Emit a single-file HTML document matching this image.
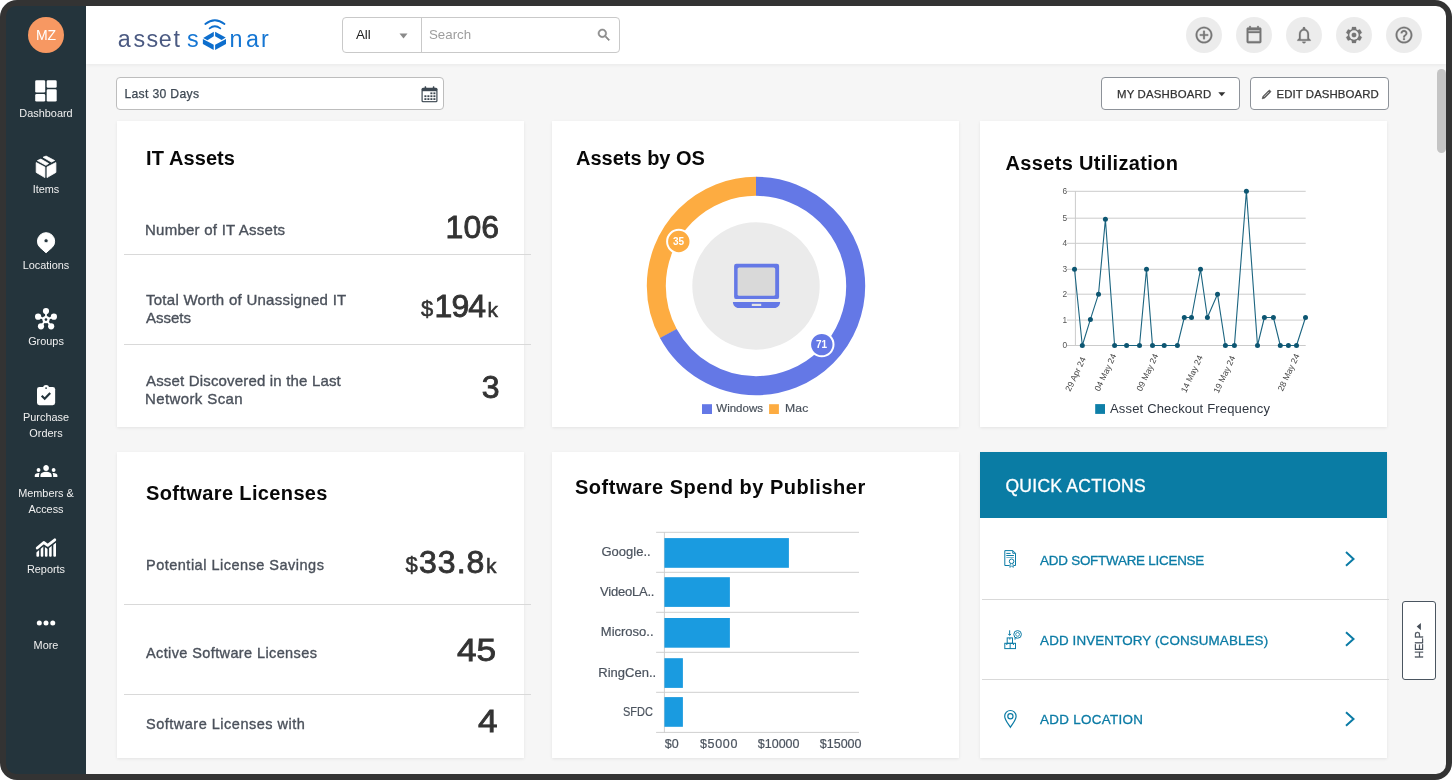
<!DOCTYPE html>
<html lang="en">
<head>
<meta charset="utf-8">
<title>AssetSonar Dashboard</title>
<style>
*{box-sizing:border-box;margin:0;padding:0}
html,body{width:1452px;height:780px;overflow:hidden;background:#fff}
body{font-family:"Liberation Sans",sans-serif;color:#333;position:relative}
.abs{position:absolute}
#frame{position:absolute;left:0;top:0;width:1452px;height:780px;background:#333;border-radius:17px}
#screen{position:absolute;left:6px;top:6px;width:1440px;height:768px;border-radius:10px;overflow:hidden}
#w{position:absolute;left:-6px;top:-6px;width:1452px;height:780px;will-change:transform}
#bg{position:absolute;left:86px;top:6px;width:1360px;height:768px;background:#f6f6f6}
#side{position:absolute;left:0;top:0;width:86px;height:780px;background:#24343c}
#avatar{position:absolute;left:28px;top:17px;width:36px;height:36px;border-radius:50%;background:#f79862;color:#fff;font-size:14px;line-height:36px;text-align:center}
.nav{position:absolute;left:6px;width:80px;text-align:center;color:#f0f0f0;font-size:10.9px;line-height:16px}
.nav svg{position:absolute;left:26px;width:28px;height:28px;fill:#fff}
#top{position:absolute;left:86px;top:6px;width:1360px;height:58px;background:#fff;box-shadow:0 1px 4px rgba(0,0,0,.06)}
.cbtn{position:absolute;top:17px;width:36px;height:36px;border-radius:50%;background:#ececec}
.cbtn svg{position:absolute;left:7.600px;top:7.900px;width:20px;height:20px;fill:#757575;stroke:#757575;stroke-width:.3px;stroke-linejoin:round}
#search{position:absolute;left:342px;top:17px;width:278px;height:36px;border:1px solid #c9c9c9;border-radius:4px;background:#fff}
#search .div{position:absolute;left:78px;top:0;width:1px;height:34px;background:#c9c9c9}
.card{position:absolute;background:#fff;box-shadow:0 1px 3px rgba(0,0,0,.08)}
.pp{font-family:"Liberation Sans",sans-serif}
.t{position:absolute;white-space:nowrap;line-height:1}
.title{font-weight:bold;font-size:20px;color:#080808}
.lbl{font-size:15px;color:#4b515b;-webkit-text-stroke:.35px #4b515b}
.num{font-size:32px;color:#333;-webkit-text-stroke:.85px #333;transform-origin:0 0}
.bl{color:#4b535e;-webkit-text-stroke:.2px #4b535e}
.qa{color:#0b7ba5;-webkit-text-stroke:.3px #0b7ba5}
.hr{position:absolute;height:1px;background:#d9d9d9}
.btn{position:absolute;top:77px;height:32.500px;border:1px solid #8d9299;border-radius:4px;background:#fff;font-size:13px;color:#333}
</style>
</head>
<body>
<div id="frame"></div>
<div id="screen"><div id="w">
<div id="bg"></div>

<!-- SIDEBAR -->
<div id="side"></div>
<div id="avatar">MZ</div>
<svg class="abs" style="left:6px;top:6px" width="80" height="768" viewBox="6 6 80 768" fill="#fff">
  <!-- dashboard -->
  <rect x="35.2" y="80.2" width="10" height="12.4" rx="1.3"/>
  <rect x="46.7" y="80.2" width="10" height="7.5" rx="1.3"/>
  <rect x="35.2" y="94.1" width="10" height="7.4" rx="1.3"/>
  <rect x="46.7" y="89.2" width="10" height="12.3" rx="1.3"/>
  <!-- items (box) -->
  <g stroke="#fff" stroke-width=".8" stroke-linejoin="round">
  <polygon points="36.2,162.6 44.9,167.1 44.9,177.6 36.2,172.4"/>
  <polygon points="47,167.1 55.9,162.6 55.9,172.4 47,177.6"/>
  <polygon points="37.4,160.6 40.9,159.1 48.6,163.5 45.9,165.3"/>
  <polygon points="43.1,157.2 46.1,156.1 54.6,160.5 51.4,162.1"/>
  </g>
  <!-- locations -->
  <path fill-rule="evenodd" stroke="#fff" stroke-width="1" stroke-linejoin="round" d="M39.8 247.2A8.6 8.6 0 1 1 52.3 247.2L46.07 252.8ZM46.07 238.7a2.1 2.1 0 1 0 .01 0Z"/>
  <!-- groups -->
  <g stroke="#fff" stroke-width="1.8">
    <line x1="45.98" y1="319.6" x2="45.98" y2="311.1"/>
    <line x1="45.98" y1="319.6" x2="38.1" y2="316.7"/>
    <line x1="45.98" y1="319.6" x2="53.9" y2="316.7"/>
    <line x1="45.98" y1="319.6" x2="41" y2="326.3"/>
    <line x1="45.98" y1="319.6" x2="51.15" y2="326.3"/>
  </g>
  <circle cx="45.98" cy="311.1" r="3.1"/><circle cx="38.1" cy="316.7" r="3.1"/><circle cx="53.9" cy="316.7" r="3.1"/>
  <circle cx="41" cy="326.3" r="3.1"/><circle cx="51.15" cy="326.3" r="3.1"/>
  <circle cx="45.98" cy="319.6" r="3.6"/><circle cx="45.98" cy="319.6" r="1.3" fill="#24343c"/>
  <!-- purchase orders -->
  <rect x="37" y="386.9" width="18.15" height="18.3" rx="2.4"/>
  <circle cx="46.07" cy="388" r="3"/><circle cx="46.07" cy="388.1" r=".9" fill="#24343c"/>
  <polyline points="41.7,395.8 44.7,398.8 50.2,393.1" fill="none" stroke="#24343c" stroke-width="2.2"/>
  <!-- members -->
  <g transform="translate(34.77 458.8) scale(.943 1.017)">
  <path d="M12 12.750c1.630 0 3.070.390 4.240.900 1.080.480 1.760 1.560 1.760 2.730V18H6v-1.610c0-1.180.680-2.260 1.760-2.730 1.170-.520 2.610-.910 4.240-.910zM4 13c1.100 0 2-.900 2-2s-.900-2-2-2-2 .900-2 2 .900 2 2 2zm1.130 1.100c-.370-.060-.740-.100-1.130-.100-.990 0-1.930.210-2.780.580C.480 14.900 0 15.620 0 16.430V18h4.500v-1.610c0-.830.230-1.610.630-2.290zM20 13c1.100 0 2-.900 2-2s-.900-2-2-2-2 .900-2 2 .900 2 2 2zm4 3.430c0-.810-.480-1.530-1.220-1.850-.850-.370-1.790-.580-2.780-.580-.390 0-.760.040-1.130.100.400.680.630 1.460.630 2.290V18H24v-1.570zM12 6c1.660 0 3 1.340 3 3s-1.340 3-3 3-3-1.340-3-3 1.340-3 3-3z"/>
  </g>
  <!-- reports -->
  <clipPath id="rc"><polygon points="35,553.6 43.76,546.3 47.7,549.1 56.6,542.2 56.6,557.5 35,557.5"/></clipPath>
  <g clip-path="url(#rc)">
    <rect x="36.4" y="540" width="2.7" height="16.7" rx="1"/><rect x="40.7" y="540" width="2.6" height="16.7" rx="1"/>
    <rect x="44.9" y="540" width="2.6" height="16.7" rx="1"/><rect x="49.1" y="540" width="2.6" height="16.7" rx="1"/>
    <rect x="53.3" y="540" width="2.7" height="16.7" rx="1"/>
  </g>
  <polyline points="37.2,548 43.76,542.5 47.7,545.3 54.8,539.8" fill="none" stroke="#fff" stroke-width="2.8" stroke-linecap="round" stroke-linejoin="round"/>
  <!-- more -->
  <circle cx="39.3" cy="622.9" r="2.5"/><circle cx="46" cy="622.9" r="2.5"/><circle cx="52.76" cy="622.9" r="2.5"/>
</svg>
<div class="nav" style="top:105px">Dashboard</div>
<div class="nav" style="top:181px">Items</div>
<div class="nav" style="top:257px">Locations</div>
<div class="nav" style="top:333px">Groups</div>
<div class="nav" style="top:409px">Purchase<br>Orders</div>
<div class="nav" style="top:485px">Members &amp;<br>Access</div>
<div class="nav" style="top:561px">Reports</div>
<div class="nav" style="top:637px">More</div>

<!-- TOP BAR -->
<div id="top"></div>
<svg class="abs" style="left:110px;top:10px" width="180" height="50" viewBox="110 10 180 50">
  <g font-family="Liberation Sans, sans-serif" font-size="23.3">
  <text y="47.4" x="117.8 133.5 146.5 158.7 173.4" fill="#4b5a82">asset</text>
  <text y="47.4" x="187.1" fill="#1576d3">s</text>
  <text y="47.4" x="229.4 246.1 261" fill="#1576d3">nar</text>
  </g>
  <g fill="#0d6ecd">
  <polygon points="213.8,31.8 213.8,36.3 207.5,40.2 203.2,38"/>
  <polygon points="202.9,39.1 213.7,44.8 213.7,49.9 202.9,44"/>
  <polygon points="215.1,31.8 225.7,37.6 221.6,39.9 215.1,36.3"/>
  <polygon points="226,39.1 226,44 215.1,49.9 215.1,44.8"/>
  </g>
  <g fill="none" stroke="#0d6ecd" stroke-width="1.8" stroke-linecap="round">
  <path d="M205.3 24Q214.8 16.4 224.5 24"/>
  <path d="M209.6 28.4Q214.8 24.2 220.3 28.4"/>
  </g>
</svg>
<div id="search"><div class="div"></div>
  <div class="t" style="left:13px;top:10px;font-size:13.3px;color:#222">All</div>
  <svg class="abs" style="left:56px;top:15px" width="9" height="6"><polygon points="0.5,0.5 8.5,0.5 4.5,5.5" fill="#8a8a8a"/></svg>
  <div class="t" style="left:86px;top:10px;font-size:13.3px;color:#9e9e9e">Search</div>
  <svg class="abs" style="left:253px;top:9px" width="16" height="16" viewBox="0 0 24 24" fill="#8a8a8a" stroke="#8a8a8a" stroke-width=".8"><path d="M15.5 14h-.79l-.28-.27C15.41 12.59 16 11.11 16 9.5 16 5.91 13.09 3 9.5 3S3 5.91 3 9.5 5.91 16 9.5 16c1.61 0 3.09-.59 4.23-1.57l.27.28v.79l5 4.99L20.49 19l-4.99-5zm-6 0C7.01 14 5 11.99 5 9.5S7.01 5 9.5 5 14 7.01 14 9.5 11.99 14 9.5 14z"/></svg>
</div>
<div class="cbtn" style="left:1186px"><svg viewBox="0 0 24 24"><path d="M13 7h-2v4H7v2h4v4h2v-4h4v-2h-4V7zm-1-5C6.48 2 2 6.48 2 12s4.48 10 10 10 10-4.480 10-10S17.520 2 12 2zm0 18c-4.410 0-8-3.590-8-8s3.590-8 8-8 8 3.590 8 8-3.590 8-8 8z"/></svg></div>
<div class="cbtn" style="left:1236px"><svg viewBox="0 0 24 24"><path fill-rule="evenodd" d="M6.3 1.200h1.800v1.900h7.800V1.200h1.800v1.900h1.500c.900 0 1.600.700 1.600 1.600v15.500c0 .900-.700 1.600-1.600 1.600H4.800c-.900 0-1.600-.700-1.600-1.600V4.700c0-.900.700-1.600 1.600-1.600h1.500zM5.300 7.500h13.400v-1.300H5.300zm0 2.200v9.700h13.400V9.700z"/></svg></div>
<div class="cbtn" style="left:1286px"><svg viewBox="0 0 24 24"><path d="M12 22c1.100 0 2-.9 2-2h-4c0 1.100.9 2 2 2zm6-6v-5c0-3.070-1.630-5.640-4.500-6.320V4c0-.83-.67-1.500-1.500-1.500s-1.500.67-1.500 1.500v.68C7.640 5.360 6 7.920 6 11v5l-2 2v1h16v-1l-2-2zm-2 1H8v-6c0-2.480 1.510-4.500 4-4.500s4 2.020 4 4.500v6z"/></svg></div>
<div class="cbtn" style="left:1336px"><svg viewBox="0 0 24 24"><path d="M19.14 12.94c.04-.3.06-.61.06-.94 0-.32-.02-.64-.07-.94l2.030-1.580c.18-.14.23-.41.12-.61l-1.920-3.320c-.12-.22-.37-.29-.59-.22l-2.390.96c-.5-.38-1.030-.7-1.620-.94l-.36-2.540c-.04-.24-.24-.41-.48-.41h-3.840c-.24 0-.43.17-.47.41l-.36 2.540c-.59.24-1.130.57-1.620.94l-2.390-.96c-.22-.08-.47 0-.59.22L2.740 8.870c-.12.21-.08.47.12.61l2.030 1.580c-.05.3-.09.63-.09.94s.02.64.07.94l-2.030 1.580c-.18.14-.23.41-.12.61l1.920 3.320c.12.22.37.29.59.22l2.390-.96c.5.38 1.030.7 1.620.94l.36 2.540c.05.24.24.41.48.41h3.840c.24 0 .44-.17.47-.41l.36-2.540c.59-.24 1.130-.56 1.620-.94l2.390.96c.22.08.47 0 .59-.22l1.920-3.320c.12-.22.07-.47-.12-.61l-2.010-1.580z"/><circle cx="12" cy="12" r="5.600" fill="#ececec" stroke="none"/><circle cx="12" cy="12" r="2.800"/></svg></div>
<div class="cbtn" style="left:1386px"><svg viewBox="0 0 24 24"><path d="M11 18h2v-2h-2v2zm1-16C6.48 2 2 6.480 2 12s4.480 10 10 10 10-4.480 10-10S17.520 2 12 2zm0 18c-4.410 0-8-3.590-8-8s3.590-8 8-8 8 3.590 8 8-3.590 8-8 8zm0-14c-2.210 0-4 1.790-4 4h2c0-1.100.9-2 2-2s2 .9 2 2c0 2-3 1.750-3 5h2c0-2.250 3-2.500 3-5 0-2.210-1.790-4-4-4z"/></svg></div>

<!-- TOOLBAR -->
<div class="abs" id="datebox" style="left:116px;top:77px;width:328px;height:32.500px;border:1px solid #bdbdbd;border-radius:4px;background:#fff">
  <div class="t" id="t_date" style="left:7.400px;top:9.800px;font-size:12.200px;color:#3f4954;-webkit-text-stroke:.25px #3f4954;letter-spacing:.32px;">Last 30 Days</div>
  <svg class="abs" style="left:304px;top:8px" width="17" height="17" viewBox="0 0 17 17"><g fill="#3d4852"><rect x=".5" y="1.800" width="16" height="14.500" rx="1.500"/><rect x="3.600" y=".3" width="1.600" height="3" rx=".6"/><rect x="11.800" y=".3" width="1.600" height="3" rx=".6"/></g><rect x="1.700" y="5.200" width="13.600" height="9.900" fill="#fff"/><g fill="#3d4852"><rect x="9.400" y="6.400" width="2" height="1.800"/><rect x="12.400" y="6.400" width="2" height="1.800"/><rect x="3.400" y="9.300" width="2" height="1.800"/><rect x="6.400" y="9.300" width="2" height="1.800"/><rect x="9.400" y="9.300" width="2" height="1.800"/><rect x="12.400" y="9.300" width="2" height="1.800"/><rect x="3.400" y="12.200" width="2" height="1.800"/><rect x="6.400" y="12.200" width="2" height="1.800"/><rect x="9.400" y="12.200" width="2" height="1.800"/><rect x="12.400" y="12.200" width="2" height="1.800"/></g></svg>
</div>
<div class="btn" style="left:1101px;width:139px">
  <div class="t" id="t_myd" style="left:15px;top:11px;font-size:11.400px;color:#333;-webkit-text-stroke:.25px #333;letter-spacing:0.184px;">MY DASHBOARD</div>
  <svg class="abs" style="left:116px;top:14px" width="8" height="5"><polygon points="0.300,0.300 7.300,0.300 3.800,4.200" fill="#333"/></svg>
</div>
<div class="btn" style="left:1250px;width:139px">
  <svg class="abs" style="left:9.500px;top:11px" width="11" height="11" viewBox="0 0 11 11"><path d="M1.200 9.800L1.900 7.300L7.700 1.500C8.100 1.100 8.700 1.100 9.100 1.500L9.500 1.900C9.900 2.300 9.900 2.900 9.500 3.300L3.700 9.100Z" fill="#555" stroke="#444" stroke-width=".6" stroke-linejoin="round"/><path d="M2.900 7.900L7.900 2.900" stroke="#fff" stroke-width=".7"/></svg>
  <div class="t" id="t_edit" style="left:25.500px;top:11px;font-size:11.400px;color:#333;-webkit-text-stroke:.25px #333;letter-spacing:0.087px;">EDIT DASHBOARD</div>
</div>

<!-- CARDS ROW 1 -->
<div class="card" id="c1" style="left:117px;top:121px;width:407px;height:306px"></div>
<div class="card" id="c2" style="left:552px;top:121px;width:407px;height:306px"></div>
<div class="card" id="c3" style="left:980px;top:121px;width:407px;height:306px"></div>
<!-- CARDS ROW 2 -->
<div class="card" id="c4" style="left:117px;top:452px;width:407px;height:306px"></div>
<div class="card" id="c5" style="left:552px;top:452px;width:407px;height:306px"></div>
<div class="card" id="c6" style="left:980px;top:452px;width:407px;height:306px"></div>

<!-- CARD 1 TEXT -->
<div class="t title" id="a_title" style="left:146.0px;top:148px;font-size:20px;letter-spacing:0.100px;">IT Assets</div>
<div class="t lbl" id="a_l1" style="left:145.0px;top:222.3px;font-size:15px;letter-spacing:0.25px;">Number of IT Assets</div>
<div class="hr" style="left:124px;top:254px;width:407px"></div>
<div class="t lbl" id="a_l2" style="left:146px;top:291.8px;font-size:15px;letter-spacing:0.263px;">Total Worth of Unassigned IT</div>
<div class="t lbl" id="a_l2b" style="left:146px;top:309.5px;font-size:15px;">Assets</div>
<div class="hr" style="left:124px;top:344px;width:407px"></div>
<div class="t lbl" id="a_l3" style="left:146px;top:373.1px;font-size:15px;letter-spacing:0.173px;">Asset Discovered in the Last</div>
<div class="t lbl" id="a_l3b" style="left:145.0px;top:391.3px;font-size:15px;letter-spacing:0.393px;">Network Scan</div>

<!-- NUMBERS -->
<div class="t num" id="a_n1" style="left:445.6px;top:210.91px;font-size:32px;">106</div>
<div class="t num" id="a_n2d" style="left:421px;top:298.08px;font-size:22px;-webkit-text-stroke:.5px #333;">$</div>
<div class="t num" id="a_n2" style="left:434.5px;top:289.61px;font-size:32px;letter-spacing:-0.9px;">194</div>
<div class="t num" id="a_n2k" style="left:487.5px;top:298.92px;font-size:21px;-webkit-text-stroke:.5px #333;">k</div>
<div class="t num" id="a_n3" style="left:481.8px;top:371.41px;font-size:32px;">3</div>
<div class="t num" id="s_n1d" style="left:405.6px;top:554.18px;font-size:22px;-webkit-text-stroke:.5px #333;">$</div>
<div class="t num" id="s_n1" style="left:419px;top:545.71px;font-size:32px;letter-spacing:1.02px;">33.8</div>
<div class="t num" id="s_n1k" style="left:486px;top:555.02px;font-size:21px;-webkit-text-stroke:.5px #333;">k</div>
<div class="t num" id="s_n2" style="left:457.2px;top:633.91px;font-size:32px;transform:scaleX(1.1);">45</div>
<div class="t num" id="s_n3" style="left:478px;top:704.91px;font-size:32px;transform:scaleX(1.1);">4</div>
<!-- CARD 4 TEXT -->
<div class="t title" id="s_title" style="left:146px;top:483.27px;font-size:20px;letter-spacing:0.366px;">Software Licenses</div>
<div class="t lbl" id="s_l1" style="left:146px;top:557.83px;font-size:14.5px;letter-spacing:0.495px;">Potential License Savings</div>
<div class="hr" style="left:124px;top:604px;width:407px"></div>
<div class="t lbl" id="s_l2" style="left:146px;top:645.73px;font-size:14.5px;letter-spacing:0.387px;">Active Software Licenses</div>
<div class="hr" style="left:124px;top:694px;width:407px"></div>
<div class="t lbl" id="s_l3" style="left:146px;top:717.03px;font-size:14.5px;letter-spacing:0.506px;">Software Licenses with</div>

<!-- CARD 2: DONUT -->
<div class="t title" id="o_title" style="left:576px;top:148.27px;font-size:20px;">Assets by OS</div>
<svg class="abs" style="left:552px;top:121px" width="407" height="306" viewBox="552 121 407 306">
  <circle cx="756" cy="286" r="63.7" fill="#ebebeb"/>
  <g transform="rotate(-90 756 286)" fill="none" stroke-width="19">
    <circle cx="756" cy="286" r="99.7" stroke="#fdac41" stroke-dasharray="207.44 418.99" stroke-dashoffset="-419.29"/>
    <circle cx="756" cy="286" r="99.7" stroke="#6478e6" stroke-dasharray="419.59 206.84"/>
  </g>
  <!-- laptop -->
  <rect x="734.1" y="263.7" width="45" height="35.4" rx="2.2" fill="#6478e6"/>
  <rect x="737.6" y="267.4" width="37.6" height="28.4" rx="1.6" fill="#d9d9d9"/>
  <path d="M732.9 301.9H780.1C780.1 305.300 777.500 307.900 774.300 307.900H738.700C735.500 307.900 732.900 305.300 732.900 301.900Z" fill="#6478e6"/>
  <rect x="751.8" y="303.8" width="9.4" height="2.2" fill="#e4e4e4"/>
  <!-- labels -->
  <circle cx="678.8" cy="241.5" r="11.7" fill="#fdac41" stroke="#fff" stroke-width="2"/>
  <circle cx="821.8" cy="344.6" r="11.7" fill="#6478e6" stroke="#fff" stroke-width="2"/>
  <g font-family="Liberation Sans, sans-serif" font-size="10" font-weight="bold" fill="#fff" text-anchor="middle">
    <text x="678.5" y="245.1">35</text>
    <text x="821.6" y="348.2">71</text>
  </g>
  <rect x="702" y="404.2" width="10" height="9.8" fill="#6478e6"/>
  <rect x="769.1" y="404.2" width="9.8" height="9.8" fill="#fdac41"/>
</svg>
<div class="t" id="o_win" style="left:716.3px;top:403.17px;font-size:11.5px;color:#4a525c;-webkit-text-stroke:.2px #4a525c;">Windows</div>
<div class="t" id="o_mac" style="left:785.2px;top:403.17px;font-size:11.5px;color:#4a525c;-webkit-text-stroke:.2px #4a525c;letter-spacing:.15px;transform:scaleX(1.06);transform-origin:0 0;">Mac</div>

<!-- CARD 3: LINE CHART -->
<div class="t title" id="u_title" style="left:1005.5px;top:153.27px;font-size:20px;letter-spacing:0.334px;">Assets Utilization</div>
<svg class="abs" style="left:980px;top:121px" width="407" height="306" viewBox="980 121 407 306">
  <g stroke="#cbcbcb" stroke-width="1"><line x1="1067" x2="1305.7" y1="191.3" y2="191.3"/><line x1="1067" x2="1305.7" y1="218.2" y2="218.2"/><line x1="1067" x2="1305.7" y1="243.3" y2="243.3"/><line x1="1067" x2="1305.7" y1="269.3" y2="269.3"/><line x1="1067" x2="1305.7" y1="294.2" y2="294.2"/><line x1="1067" x2="1305.7" y1="320.1" y2="320.1"/><line x1="1067" x2="1305.7" y1="345.5" y2="345.5"/><line x1="1075.4" x2="1075.4" y1="191" y2="346"/></g>
  <g font-family="Liberation Sans, sans-serif" font-size="8.300" fill="#555" text-anchor="middle"><text x="1064.8" y="194.2">6</text><text x="1064.8" y="221.1">5</text><text x="1064.8" y="246.2">4</text><text x="1064.8" y="272.2">3</text><text x="1064.8" y="297.1">2</text><text x="1064.8" y="323.0">1</text><text x="1064.8" y="348.4">0</text></g>
  <polyline points="1074.5,269.3 1082.3,345.5 1090.4,319.4 1098.5,294.2 1105.4,219.3 1114.6,345.5 1126.6,345.5 1139.5,345.5 1146.5,269.3 1152.5,345.5 1164.2,345.5 1177.4,345.5 1184.3,317.5 1191.5,317.5 1200.5,269.3 1207.4,317.5 1217.5,294.2 1225.4,345.5 1234.4,345.5 1246.4,191.3 1257.5,345.5 1264.4,317.5 1273.4,317.5 1280.3,345.5 1288.4,345.5 1296.5,345.5 1305.5,317.5" fill="none" stroke="#1c6580" stroke-width="1.1" stroke-linejoin="round"/>
  <g fill="#0d5672"><circle cx="1074.5" cy="269.3" r="2.5"/><circle cx="1082.3" cy="345.5" r="2.5"/><circle cx="1090.4" cy="319.4" r="2.5"/><circle cx="1098.5" cy="294.2" r="2.5"/><circle cx="1105.4" cy="219.3" r="2.5"/><circle cx="1114.6" cy="345.5" r="2.5"/><circle cx="1126.6" cy="345.5" r="2.5"/><circle cx="1139.5" cy="345.5" r="2.5"/><circle cx="1146.5" cy="269.3" r="2.5"/><circle cx="1152.5" cy="345.5" r="2.5"/><circle cx="1164.2" cy="345.5" r="2.5"/><circle cx="1177.4" cy="345.5" r="2.5"/><circle cx="1184.3" cy="317.5" r="2.5"/><circle cx="1191.5" cy="317.5" r="2.5"/><circle cx="1200.5" cy="269.3" r="2.5"/><circle cx="1207.4" cy="317.5" r="2.5"/><circle cx="1217.5" cy="294.2" r="2.5"/><circle cx="1225.4" cy="345.5" r="2.5"/><circle cx="1234.4" cy="345.5" r="2.5"/><circle cx="1246.4" cy="191.3" r="2.5"/><circle cx="1257.5" cy="345.5" r="2.5"/><circle cx="1264.4" cy="317.5" r="2.5"/><circle cx="1273.4" cy="317.5" r="2.5"/><circle cx="1280.3" cy="345.5" r="2.5"/><circle cx="1288.4" cy="345.5" r="2.5"/><circle cx="1296.5" cy="345.5" r="2.5"/><circle cx="1305.5" cy="317.5" r="2.5"/></g>
  <g font-family="Liberation Sans, sans-serif" font-size="8.600" fill="#444"><text id="x0" transform="translate(1083.2 357.5) rotate(-65)" text-anchor="end" x="0" y="3">29 Apr 24</text><text id="x1" transform="translate(1113.8 354.2) rotate(-65)" text-anchor="end" x="0" y="3">04 May 24</text><text id="x2" transform="translate(1155.8 354.2) rotate(-65)" text-anchor="end" x="0" y="3">09 May 24</text><text id="x3" transform="translate(1200.3 355.7) rotate(-65)" text-anchor="end" x="0" y="3">14 May 24</text><text id="x4" transform="translate(1232.8 356.2) rotate(-65)" text-anchor="end" x="0" y="3">19 May 24</text><text id="x5" transform="translate(1297.0 354.2) rotate(-65)" text-anchor="end" x="0" y="3">28 May 24</text></g>
  <rect x="1095.2" y="404.1" width="9.8" height="9.8" fill="#0e7fa8"/>
</svg>
<div class="t" id="u_leg" style="left:1110px;top:402.0px;font-size:13px;color:#2f3640;letter-spacing:0.168px;">Asset Checkout Frequency</div>

<!-- CARD 5: BAR CHART -->
<div class="t title" id="p_title" style="left:575px;top:477.07px;font-size:20px;letter-spacing:0.52px;">Software Spend by Publisher</div>
<svg class="abs" style="left:552px;top:452px" width="407" height="306" viewBox="552 452 407 306">
  <g stroke="#cfcfcf" stroke-width="1"><line x1="656.1" x2="859" y1="532.3" y2="532.3"/><line x1="656.1" x2="859" y1="572.3" y2="572.3"/><line x1="656.1" x2="859" y1="612.3" y2="612.3"/><line x1="656.1" x2="859" y1="652.3" y2="652.3"/><line x1="656.1" x2="859" y1="692.3" y2="692.3"/><line x1="656.1" x2="859" y1="732.4" y2="732.4"/><line x1="664.4" x2="664.4" y1="532" y2="733"/></g>
  <g fill="#1a9be0"><rect x="664.4" y="538.1" width="124.5" height="29.7"/><rect x="664.4" y="577.2" width="65.5" height="29.7"/><rect x="664.4" y="618" width="65.5" height="29.7"/><rect x="664.4" y="658.2" width="18.5" height="29.7"/><rect x="664.4" y="697.1" width="18.5" height="29.7"/></g>
</svg>
<div class="t bl" id="b_l0" style="left:601.5px;top:544.8px;font-size:13px;">Google..</div>
<div class="t bl" id="b_l1" style="left:600px;top:585.3px;font-size:13px;letter-spacing:-0.214px;">VideoLA..</div>
<div class="t bl" id="b_l2" style="left:600.8px;top:624.8px;font-size:13px;">Microso..</div>
<div class="t bl" id="b_l3" style="left:598.3px;top:666.4px;font-size:13px;">RingCen..</div>
<div class="t bl" id="b_l4" style="left:623.400px;top:706px;font-size:12.800px;transform:scaleX(.86);transform-origin:0 0;">SFDC</div>
<div class="t bl" id="b_x0" style="left:664.8px;top:738.32px;font-size:12.5px;">$0</div>
<div class="t bl" id="b_x1" style="left:699.9px;top:738.32px;font-size:12.5px;letter-spacing:0.675px;">$5000</div>
<div class="t bl" id="b_x2" style="left:757.8px;top:738.32px;font-size:12.5px;">$10000</div>
<div class="t bl" id="b_x3" style="left:819.8px;top:738.32px;font-size:12.5px;">$15000</div>

<!-- CARD 6: QUICK ACTIONS -->
<div class="abs" style="left:980px;top:452px;width:407px;height:66px;background:#0a7ca4"></div>
<div class="t" id="q_title" style="left:1005.5px;top:478.09px;font-size:17.5px;color:#fff;-webkit-text-stroke:.3px #fff;letter-spacing:0.255px;">QUICK ACTIONS</div>
<div class="hr" style="left:982px;top:599px;width:407px"></div>
<div class="hr" style="left:982px;top:679px;width:407px"></div>
<div class="t qa" id="q_1" style="left:1040.1px;top:553.56px;font-size:13.4px;letter-spacing:-0.223px;">ADD SOFTWARE LICENSE</div>
<div class="t qa" id="q_2" style="left:1040.1px;top:633.66px;font-size:13.4px;letter-spacing:0.128px;">ADD INVENTORY (CONSUMABLES)</div>
<div class="t qa" id="q_3" style="left:1040.1px;top:713.46px;font-size:13.4px;letter-spacing:0.303px;">ADD LOCATION</div>
<svg class="abs" style="left:980px;top:518px" width="407" height="240" viewBox="980 518 407 240" fill="none" stroke="#0b7ba5">
  <g stroke-width="2"><polyline points="1346,552.1 1353.5,558.9 1346,565.7"/><polyline points="1346,632.2 1353.5,639 1346,645.8"/><polyline points="1346,712.2 1353.5,719 1346,725.8"/></g>
  <!-- license icon -->
  <g stroke-width="1">
  <path d="M1009.500 565.500H1004.800V550.600H1012.800L1015.500 553.300V565.500H1013.500M1012.800 550.600V553.300H1015.500"/>
  <path d="M1006.300 553.400H1010.600M1006.300 555.500H1013.900" />
  <path d="M1006.300 557.500H1013.900" stroke-opacity=".55"/>
  <circle cx="1011.600" cy="561.300" r="2.300"/>
  <path d="M1010.400 563.400L1009.800 567.300L1011.600 566.200L1013.400 567.300L1012.800 563.400" stroke-width=".8"/>
  <!-- inventory icon -->
  <rect x="1004.800" y="643.300" width="10.700" height="5.300"/>
  <path d="M1010.150 643.300V648.600M1006.800 643.300V645M1013.400 643.300V645"/>
  <rect x="1007.200" y="637.900" width="5.300" height="5.400"/>
  <path d="M1009.850 637.900V639.600M1009.650 630.300V635.200M1008.300 633.900L1009.650 635.400L1011 633.900"/>
  <circle cx="1017.600" cy="634.400" r="3.800"/>
  <circle cx="1017.600" cy="634.400" r="1.900" stroke-width=".8"/>
  <path d="M1015.100 637.300L1014.800 639.400L1016.600 638.100" stroke-width=".8"/>
  <!-- location icon -->
  <path stroke-width="1.200" d="M1010.400 727.300C1008 723.500 1004.700 719.800 1004.700 716.200A5.700 5.700 0 0 1 1016.100 716.200C1016.100 719.800 1012.800 723.500 1010.400 727.300Z"/>
  <circle cx="1010.400" cy="716.300" r="2.600" stroke-width="1.200"/>
  </g>
</svg>
<!-- HELP TAB -->
<div class="abs" style="left:1402px;top:601px;width:34px;height:79px;border:1.400px solid #4a5560;border-radius:3px;background:#fff"></div>
<svg class="abs" style="left:1402px;top:601px" width="34" height="79" viewBox="1402 601 34 79">
  <text id="h_txt" transform="translate(1423.100 658.300) rotate(-90)" font-family="Liberation Sans, sans-serif" font-size="11.800" fill="#464e58" stroke="#464e58" stroke-width=".35" textLength="27" lengthAdjust="spacingAndGlyphs">HELP</text>
  <polygon points="1420.900,630.200 1420.900,623.100 1416.700,626.600" fill="#464e58"/>
</svg>

<!-- SCROLLBAR + HELP -->
<div class="abs" style="left:1437px;top:69px;width:9px;height:84px;border-radius:4.5px;background:#c4c4c4"></div>

</div></div>
</body>
</html>
